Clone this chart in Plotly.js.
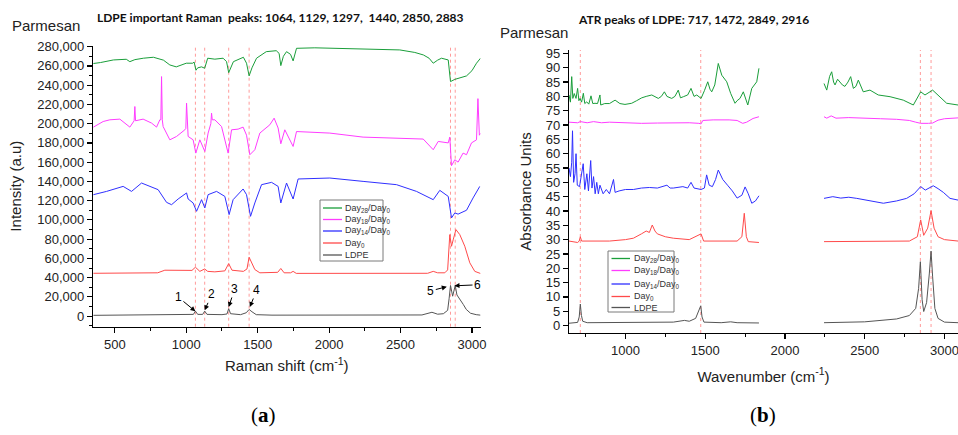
<!DOCTYPE html>
<html><head><meta charset="utf-8">
<script src="https://cdn.plot.ly/plotly-3.0.1.min.js"></script>
<style>html,body{margin:0;padding:0;background:#fff}#chart{width:958px;height:435px}</style>
</head><body><div id="chart"></div>
<script>
// ---------- Panel (a): Raman, intensity in thousands of a.u. ----------
const ramanDay28 = [[350,262.5],[400,263.5],[490,266.2],[580,266.9],[605,264.4],[640,266.5],[700,268],[770,269],[840,266],[885,261],[930,259],[1000,262.8],[1045,262.8],[1055,264],[1068,255.5],[1080,258],[1107,259],[1129,257.6],[1150,268],[1200,267],[1258,268],[1282,264.4],[1297,253],[1330,264.4],[1400,269],[1422,262.8],[1440,249.6],[1460,258],[1492,268],[1560,274.8],[1630,275.8],[1650,273],[1662,260.3],[1680,270],[1702,274.8],[1730,272],[1748,265.2],[1772,278.3],[1900,278.8],[2000,278.5],[2100,277.5],[2260,277.3],[2400,276.8],[2495,276.6],[2600,274],[2660,271.4],[2700,268],[2729,262.8],[2760,266],[2787,268],[2834,266.2],[2850,243.7],[2880,246],[2915,247.2],[2962,249.6],[3000,255],[3032,262.8],[3060,268]];
const ramanDay18 = [[350,196.4],[418,202.2],[465,204],[535,204.7],[605,196.4],[635,203],[640,217.8],[645,203],[698,204.7],[757,200.6],[792,196.4],[815,204],[822,204],[827,248.9],[832,204],[838,197],[885,183.2],[932,186.7],[990,193.6],[997,195],[1002,221.3],[1007,195],[1013,186.7],[1048,183.2],[1067,169.4],[1095,183.2],[1130,171.1],[1153,190.2],[1172,200],[1177,210.9],[1182,204],[1200,204],[1247,197],[1293,169.4],[1317,193.6],[1363,194.3],[1398,196.4],[1422,188],[1445,167.7],[1480,172.9],[1515,190.2],[1585,198.8],[1615,205.7],[1643,195.5],[1662,179.1],[1690,193.6],[1748,176.3],[1772,191.8],[2005,190.2],[2238,186],[2472,184.6],[2659,184],[2729,172.9],[2764,181.5],[2834,180],[2845,186],[2857,156.3],[2880,162.5],[2903,160],[2938,169.4],[2962,167.7],[2997,180],[3032,183.2],[3042,226],[3052,188],[3060,190]];
const ramanDay14 = [[350,126.2],[442,129.6],[558,134.8],[617,129.6],[687,138.3],[746,134.8],[803,131.4],[862,118.2],[897,115.8],[943,121.7],[1002,128],[1013,121.7],[1048,117.6],[1072,108.9],[1107,121],[1130,112.4],[1153,126.2],[1212,129.6],[1270,124.4],[1300,105.5],[1328,121],[1398,132.1],[1422,126.2],[1450,103.7],[1480,117.6],[1527,136.6],[1597,139],[1643,134.8],[1662,117.6],[1702,138.3],[1748,121.7],[1783,142.5],[2005,143.5],[2238,140],[2472,136.6],[2612,129.6],[2729,121],[2775,130.7],[2834,124.4],[2857,102],[2880,107.2],[2903,106],[2962,110],[3008,122.8],[3055,134.8]];
const ramanDay0 = [[350,44.5],[800,45],[850,47.7],[900,47.7],[950,47],[1000,47],[1040,47.5],[1064,50.8],[1095,46.5],[1129,49],[1150,46.5],[1200,46],[1270,47],[1297,54.6],[1320,47.7],[1400,46.5],[1425,49],[1440,61.2],[1460,55],[1480,48.4],[1515,45],[1640,45.5],[1662,49.5],[1685,45],[1730,45],[1748,46.5],[1770,44.4],[1900,44.4],[2200,44.2],[2500,44.2],[2690,44.5],[2729,46.5],[2760,45],[2810,45],[2830,48],[2845,84.7],[2857,72.6],[2870,80],[2888,89.9],[2915,84.7],[2950,72.6],[2985,55.4],[3020,46.5],[3060,44.3]];
const ramanLDPE = [[350,0.8],[700,1],[870,1.7],[1000,1.2],[1050,1.8],[1064,5.2],[1080,1.8],[1115,1.8],[1129,5.2],[1145,1.8],[1250,1.5],[1285,2.2],[1297,7.7],[1310,2.5],[1380,1.5],[1420,3.5],[1440,6.9],[1460,4.5],[1490,1.5],[1600,1],[2000,0.8],[2400,0.8],[2650,1.2],[2720,4],[2760,2],[2800,2.5],[2830,6],[2840,18],[2850,31.8],[2865,20.7],[2883,31.8],[2895,22],[2920,17],[2940,12],[2960,7],[2990,3],[3030,1.5],[3060,1]];
const ramanPeaks = [1064, 1129, 1297, 1440, 2850, 2883];

// ---------- Panel (b): ATR, absorbance units (null = gap in data) ----------
const atrDay28 = [[646,80.5],[655,78],[663,86.9],[670,79.3],[679,81],[690,79.3],[700,82.8],[708,78.5],[715,79.3],[725,78],[736,81.1],[745,77.5],[757,78.1],[770,77.3],[784,80.2],[795,77.5],[809,77.6],[825,77.5],[840,80.5],[845,77],[870,77.5],[900,77.5],[935,78.7],[965,77.5],[997,77.2],[1039,77.6],[1070,78.5],[1102,79.5],[1130,80],[1165,80.5],[1206,79.3],[1225,80],[1244,81.6],[1260,80],[1290,79.3],[1310,80],[1331,82.2],[1345,79.5],[1363,79.9],[1390,80.5],[1411,82.8],[1430,80],[1447,80.5],[1474,79.3],[1495,82],[1516,85.1],[1530,82.5],[1541,81.6],[1560,84],[1582,91.5],[1604,87.4],[1620,86],[1635,85.1],[1660,81],[1687,77.6],[1700,78.5],[1718,79.3],[1739,81.6],[1767,77],[1792,82.8],[1810,84],[1823,85.1],[1837,89.8],[2040,null],[2245,84.5],[2262,82.2],[2280,87],[2293,88.6],[2305,85],[2314,84],[2330,86],[2345,85],[2360,84],[2376,83.5],[2395,85],[2412,86.9],[2429,82.8],[2445,83.5],[2460,85.7],[2491,81.6],[2533,82.2],[2585,80.5],[2659,79.9],[2742,78.7],[2805,77],[2851,81.6],[2878,80.5],[2926,82.2],[2972,79.9],[3014,77.6],[3085,77]];
const atrDay18 = [[646,71],[700,70.8],[717,71.2],[760,70.8],[800,71.2],[850,70.8],[900,71],[1000,70.7],[1100,70.6],[1200,70.7],[1300,70.8],[1400,70.8],[1460,70.6],[1474,70.4],[1485,71.6],[1550,71.8],[1650,71.8],[1700,71.6],[1735,70.6],[1760,71],[1800,72.3],[1837,72.9],[2040,null],[2245,72.9],[2262,72.4],[2290,73.2],[2320,72.4],[2400,72.6],[2500,72.3],[2600,72.2],[2700,72],[2780,71.6],[2820,71],[2851,70.6],[2900,70.6],[2926,70.7],[2960,71.7],[3000,72.2],[3085,72.5]];
const atrDay14 = [[646,55],[655,52],[663,57],[668,68],[675,50],[684,53],[690,60],[698,49],[712,48.5],[720,51],[735,56.5],[745,47.5],[758,53],[768,47],[782,57.6],[790,48],[800,52],[810,46],[820,50],[830,46],[840,49],[860,46],[880,47.5],[900,46],[925,51],[935,46.5],[960,47],[1000,47.5],[1050,47.5],[1100,48],[1150,48.2],[1200,48],[1260,49],[1280,48],[1300,48],[1360,48.5],[1390,48],[1411,50],[1430,48],[1474,47.5],[1495,48],[1509,52.6],[1525,49],[1545,48.5],[1565,51],[1582,54.3],[1610,51],[1640,49],[1670,47],[1700,44.5],[1730,45.5],[1750,48.4],[1770,46],[1792,42.7],[1815,43.5],[1837,45.3],[2040,null],[2245,44.4],[2300,45],[2350,44.5],[2400,44.8],[2450,44.4],[2530,43.5],[2617,42.7],[2700,43.5],[2763,44.4],[2810,46],[2851,48.5],[2880,47.3],[2930,48.8],[2960,47.8],[2993,46.5],[3035,44.4],[3085,43.8]];
const atrDay0 = [[646,29.5],[700,29],[710,29.5],[717,31],[725,29.5],[800,29.5],[900,29.5],[1000,30],[1050,30.5],[1100,32],[1130,33],[1150,32.5],[1168,35.1],[1185,33],[1200,32],[1250,31],[1300,30.5],[1400,30],[1460,31.5],[1474,32],[1490,29.5],[1600,29.5],[1700,29.5],[1730,31],[1745,39.2],[1758,31],[1770,29.3],[1837,29],[2040,null],[2245,29.3],[2400,29.3],[2600,29.3],[2780,29.5],[2830,31],[2851,36.9],[2870,31.5],[2895,34],[2916,40.1],[2935,34],[2960,31],[3000,30],[3085,29.5]];
const atrLDPE = [[646,0.8],[700,1.1],[710,3],[717,7.5],[724,3.5],[732,1.5],[760,1],[1000,1],[1100,1.2],[1300,1.2],[1370,1.8],[1400,1.5],[1440,2.5],[1460,5],[1472,6.9],[1480,3],[1492,1.2],[1600,1],[1660,1.3],[1700,1],[1837,0.9],[2040,null],[2245,1],[2500,1.3],[2700,2.3],[2780,3.5],[2820,6],[2838,13],[2849,22.3],[2860,9],[2870,4.9],[2888,8],[2905,18],[2916,26],[2926,17],[2940,6],[2960,2.5],[3000,1.2],[3085,1]];
const atrPeaks = [717, 1472, 2849, 2916];

const seriesNames = ['Day<sub>28</sub>/Day<sub>0</sub>','Day<sub>18</sub>/Day<sub>0</sub>','Day<sub>14</sub>/Day<sub>0</sub>','Day<sub>0</sub>','LDPE'];
const seriesColors = ['#1a9e3a','#ff3cff','#2f2fff','#ff4a4a','#555555'];

const ramanSets = [ramanDay28, ramanDay18, ramanDay14, ramanDay0, ramanLDPE];
const atrSets = [atrDay28, atrDay18, atrDay14, atrDay0, atrLDPE];

const traces = [];
ramanSets.forEach((s, i) => traces.push({
  type:'scatter', mode:'lines', name:seriesNames[i], showlegend:false,
  x:s.map(p=>p[0]), y:s.map(p=>p[1]*1000),
  line:{color:seriesColors[i], width:1}, xaxis:'x', yaxis:'y'
}));
atrSets.forEach((s, i) => traces.push({
  type:'scatter', mode:'lines', name:seriesNames[i], showlegend:false,
  x:s.map(p=>p[0]), y:s.map(p=>p[1]),
  line:{color:seriesColors[i], width:1}, xaxis:'x2', yaxis:'y2', connectgaps:false
}));

const shapes = [];
ramanPeaks.forEach(p => shapes.push({type:'line', xref:'x', yref:'y domain', x0:p, x1:p, y0:0, y1:1, layer:'below', line:{color:'#ff9a9a', width:1, dash:'dot'}}));
atrPeaks.forEach(p => shapes.push({type:'line', xref:'x2', yref:'y2 domain', x0:p, x1:p, y0:0, y1:1, layer:'below', line:{color:'#ff9a9a', width:1, dash:'dot'}}));

const F = 'Liberation Sans, Arial, sans-serif';
const tickFont = {family:F, size:13, color:'#222'};
const axisCommon = {showline:true, linecolor:'#000', linewidth:1.2, ticks:'outside', ticklen:5, tickwidth:1.2, tickcolor:'#000', showgrid:false, zeroline:false, tickfont:tickFont, ticklabeloverflow:'allow'};

const arrowCommon = {xref:'x', yref:'y', showarrow:true, arrowhead:2, arrowsize:1, arrowwidth:1, arrowcolor:'#000', font:{family:F, size:12, color:'#000'}, axref:'pixel', ayref:'pixel'};

const annotations = [
  {xref:'paper', yref:'paper', x:10/958, y:1-25/435, xanchor:'left', yanchor:'middle', text:'Parmesan', showarrow:false, font:{family:F, size:15, color:'#222'}},
  {xref:'paper', yref:'paper', x:280/958, y:1-18/435, xanchor:'center', yanchor:'middle', text:'<b>LDPE important Raman  peaks: 1064, 1129, 1297,  1440, 2850, 2883</b>', showarrow:false, font:{family:'Lato, Open Sans, sans-serif', size:12, color:'#111'}},
  {xref:'paper', yref:'paper', x:498/958, y:1-32/435, xanchor:'left', yanchor:'middle', text:'Parmesan', showarrow:false, font:{family:F, size:15, color:'#222'}},
  {xref:'paper', yref:'paper', x:693/958, y:1-19/435, xanchor:'center', yanchor:'middle', text:'<b>ATR peaks of LDPE: 717, 1472, 2849, 2916</b>', showarrow:false, font:{family:'Lato, Open Sans, sans-serif', size:12, color:'#111'}},
  {xref:'paper', yref:'paper', x:263/958, y:1-415/435, xanchor:'center', yanchor:'middle', text:'(<b>a</b>)', showarrow:false, font:{family:'Liberation Serif, serif', size:21, color:'#000'}},
  {xref:'paper', yref:'paper', x:763/958, y:1-415/435, xanchor:'center', yanchor:'middle', text:'(<b>b</b>)', showarrow:false, font:{family:'Liberation Serif, serif', size:21, color:'#000'}},
  Object.assign({x:1064, y:5000, text:'1', ax:-17, ay:-14}, arrowCommon),
  Object.assign({x:1129, y:6000, text:'2', ax:7, ay:-16}, arrowCommon),
  Object.assign({x:1297, y:9500, text:'3', ax:6, ay:-18}, arrowCommon),
  Object.assign({x:1445, y:9500, text:'4', ax:7, ay:-17}, arrowCommon),
  Object.assign({x:2824, y:30500, text:'5', ax:-16, ay:4}, arrowCommon),
  Object.assign({x:2878, y:31500, text:'6', ax:23, ay:-1}, arrowCommon)
];

// Compact legend boxes (key line + label), one per panel, in paper pixels
function addLegend(box, rowYs, lineX0, lineX1, textX) {
  shapes.push({type:'rect', xref:'paper', yref:'paper', x0:box[0]/958, x1:box[1]/958, y0:1-box[3]/435, y1:1-box[2]/435,
    line:{color:'#7a7a7a', width:1}, fillcolor:'rgba(255,255,255,0.95)', layer:'above'});
  seriesNames.forEach((n, i) => {
    const yy = 1 - rowYs[i]/435;
    shapes.push({type:'line', xref:'paper', yref:'paper', x0:lineX0/958, x1:lineX1/958, y0:yy, y1:yy, line:{color:seriesColors[i], width:1.3}, layer:'above'});
    annotations.push({xref:'paper', yref:'paper', x:textX/958, y:yy, xanchor:'left', yanchor:'middle', text:n, showarrow:false,
      font:{family:F, size:9, color:'#333'}, borderpad:0});
  });
}
addLegend([320, 383, 200, 261], [208, 219.5, 231, 243, 255], 323, 342, 343.5);
addLegend([608, 674, 251, 312], [258.5, 270.5, 284, 296.5, 307.5], 611.5, 630, 632.5);

const layout = {
  width:958, height:435, margin:{l:0, r:0, t:0, b:0},
  paper_bgcolor:'#fff', plot_bgcolor:'rgba(0,0,0,0)',
  showlegend:false,
  xaxis:Object.assign({}, axisCommon, {domain:[93/958, 480.5/958], range:[347, 3060], anchor:'y', tick0:500, dtick:500,
    minor:{ticks:'outside', ticklen:3, dtick:250, tick0:0, tickcolor:'#000', tickwidth:1},
    title:{text:'Raman shift (cm<sup>-1</sup>)', font:{family:F, size:15, color:'#222'}, standoff:10}}),
  yaxis:Object.assign({}, axisCommon, {domain:[1-326.7/435, 1-45.7/435], range:[-11000, 281000], anchor:'x', tick0:0, dtick:20000, tickformat:',',
    minor:{ticks:'outside', ticklen:3, dtick:10000, tick0:0, tickcolor:'#000', tickwidth:1},
    title:{text:'Intensity (a.u)', font:{family:F, size:15, color:'#222'}, standoff:12}}),
  xaxis2:Object.assign({}, axisCommon, {domain:[569/958, 1], range:[646, 3085], anchor:'y2', tick0:500, dtick:500,
    minor:{ticks:'outside', ticklen:3, dtick:250, tick0:0, tickcolor:'#000', tickwidth:1},
    title:{text:'Wavenumber (cm<sup>-1</sup>)', font:{family:F, size:15, color:'#222'}, standoff:14}}),
  yaxis2:Object.assign({}, axisCommon, {domain:[1-333/435, 1-50/435], range:[-2.6, 96.2], anchor:'x2', tick0:0, dtick:5,
    title:{text:'Absorbance Units', font:{family:F, size:15, color:'#222'}, standoff:10}}),
  shapes:shapes,
  annotations:annotations
};

Plotly.newPlot('chart', traces, layout, {staticPlot:true, displayModeBar:false});
</script></body></html>
